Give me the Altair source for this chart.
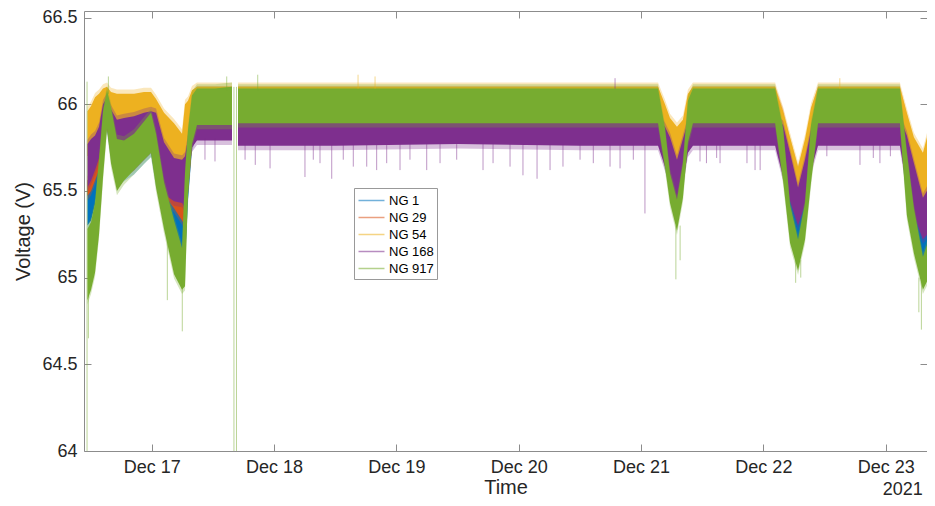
import altair as alt
import pandas as pd

FONT = "Liberation Sans"

SERIES = ["NG 1", "NG 29", "NG 54", "NG 168", "NG 917"]
COLORS = ["#0072BD", "#D95319", "#EDB120", "#7E2F8E", "#77AC30"]

TIMES = [
    "2021-12-16T11:24", "2021-12-16T12:06", "2021-12-16T12:53", "2021-12-16T13:40",
    "2021-12-16T14:27", "2021-12-16T15:14", "2021-12-16T16:01", "2021-12-16T17:11",
    "2021-12-16T18:34", "2021-12-16T20:32", "2021-12-16T22:29", "2021-12-16T23:52",
    "2021-12-17T00:51", "2021-12-17T02:25", "2021-12-17T04:23", "2021-12-17T05:57",
    "2021-12-17T06:32", "2021-12-17T07:07", "2021-12-17T07:54", "2021-12-17T08:53",
    "2021-12-17T12:25", "2021-12-17T15:45",
    "2021-12-17T16:56", "2021-12-18T12:00", "2021-12-19T12:00", "2021-12-20T12:00",
    "2021-12-21T03:20", "2021-12-21T04:42", "2021-12-21T05:41", "2021-12-21T07:03",
    "2021-12-21T08:13", "2021-12-21T09:12", "2021-12-21T10:11",
    "2021-12-22T02:18", "2021-12-22T03:52", "2021-12-22T05:14", "2021-12-22T06:48",
    "2021-12-22T08:10", "2021-12-22T09:21", "2021-12-22T10:43",
    "2021-12-23T02:47", "2021-12-23T04:09", "2021-12-23T05:32", "2021-12-23T07:18",
    "2021-12-23T08:28", "2021-12-23T09:30",
]
SEGMENT = [0] * 22 + [1] * 24

NG917_LO = [64.87, 64.93, 65.03, 65.25, 65.58, 65.86, 65.66, 65.50, 65.56, 65.62, 65.68, 65.72,
            65.52, 65.28, 65.02, 64.93, 64.95, 65.48, 65.77, 65.88, 65.88, 65.88,
            65.89, 65.89, 65.89, 65.89, 65.89, 65.64, 65.43, 65.27, 65.46, 65.78, 65.89,
            65.89, 65.56, 65.20, 65.04, 65.22, 65.55, 65.89,
            65.89, 65.36, 65.14, 64.93, 65.00, 65.15]
NG917_HI = [65.28, 65.32, 65.43, 65.68, 65.96, 66.08, 65.98, 65.80, 65.79, 65.83, 65.90, 65.95,
            65.83, 65.55, 65.33, 65.17, 65.60, 65.85, 66.05, 66.09, 66.09, 66.10,
            66.09, 66.09, 66.09, 66.09, 66.09, 65.86, 65.60, 65.45, 65.66, 66.02, 66.09,
            66.09, 65.86, 65.42, 65.22, 65.43, 65.88, 66.09,
            66.09, 65.72, 65.40, 65.12, 65.22, 65.45]

NG168_LO = [65.52, 65.56, 65.62, 65.69, 65.85, 65.88, 65.80, 65.77, 65.78, 65.80, 65.82, 65.84,
            65.72, 65.48, 65.44, 65.43, 65.40, 65.60, 65.75, 65.79, 65.79, 65.79,
            65.76, 65.76, 65.77, 65.76, 65.76, 65.64, 65.55, 65.43, 65.55, 65.72, 65.76,
            65.76, 65.58, 65.44, 65.30, 65.42, 65.62, 65.76,
            65.76, 65.52, 65.36, 65.22, 65.26, 65.43]
NG168_HI = [65.77, 65.80, 65.82, 65.87, 66.00, 66.04, 65.97, 65.91, 65.92, 65.93, 65.95, 65.96,
            65.95, 65.78, 65.69, 65.68, 65.70, 65.80, 65.90, 65.92, 65.92, 65.93,
            65.92, 65.92, 65.92, 65.92, 65.92, 65.87, 65.81, 65.68, 65.80, 65.90, 65.92,
            65.92, 65.88, 65.72, 65.52, 65.68, 65.85, 65.92,
            65.92, 65.82, 65.66, 65.46, 65.52, 65.81]

NG54_LO = [65.70, 65.72, 65.75, 65.80, 65.88, 65.90, 65.86, 65.85, 65.86, 65.87, 65.88, 65.88,
           65.84, 65.70, 65.62, 65.60, 65.65, 65.75, 65.85, 65.87, 65.87, 65.87,
           65.87, 65.87, 65.87, 65.87, 65.87, 65.80, 65.72, 65.60, 65.72, 65.85, 65.87,
           65.87, 65.78, 65.58, 65.45, 65.58, 65.75, 65.87,
           65.87, 65.72, 65.55, 65.40, 65.45, 65.70]
NG54_HI = [65.96, 65.99, 66.04, 66.06, 66.09, 66.10, 66.07, 66.06, 66.06, 66.06, 66.07, 66.07,
           66.03, 65.95, 65.89, 65.83, 66.00, 66.02, 66.08, 66.10, 66.10, 66.10,
           66.10, 66.10, 66.10, 66.10, 66.10, 66.00, 65.92, 65.87, 65.91, 66.06, 66.10,
           66.10, 65.96, 65.81, 65.64, 65.80, 65.98, 66.10,
           66.10, 65.95, 65.81, 65.72, 65.85, 66.00]

NG29_LO = [65.47, 65.50, 65.56, 65.62, 65.82, 65.87, 65.72, 65.57, 65.60, 65.64, 65.70, 65.74,
           65.58, 65.48, 65.40, 65.33, 65.30, 65.50, 65.76, 65.86, 65.86, 65.86,
           65.86, 65.86, 65.86, 65.86, 65.86, 65.72, 65.62, 65.50, 65.62, 65.80, 65.86,
           65.86, 65.70, 65.50, 65.38, 65.50, 65.70, 65.86,
           65.86, 65.62, 65.45, 65.30, 65.35, 65.55]
NG29_HI = [65.56, 65.60, 65.66, 65.78, 65.98, 66.06, 65.96, 65.84, 65.84, 65.87, 65.91, 65.95,
           65.88, 65.60, 65.50, 65.45, 65.50, 65.82, 66.02, 66.08, 66.08, 66.08,
           66.08, 66.08, 66.08, 66.08, 66.08, 65.95, 65.87, 65.80, 65.87, 66.03, 66.08,
           66.08, 65.95, 65.78, 65.62, 65.75, 65.95, 66.08,
           66.08, 65.92, 65.76, 65.68, 65.75, 65.90]

NG1_LO = [65.30, 65.33, 65.42, 65.58, 65.80, 65.86, 65.70, 65.55, 65.58, 65.62, 65.68, 65.72,
          65.55, 65.35, 65.25, 65.14, 65.10, 65.45, 65.75, 65.85, 65.85, 65.85,
          65.85, 65.85, 65.85, 65.85, 65.85, 65.65, 65.52, 65.40, 65.52, 65.78, 65.85,
          65.85, 65.62, 65.35, 65.15, 65.32, 65.62, 65.85,
          65.85, 65.45, 65.25, 65.10, 65.15, 65.30]
NG1_HI = [65.52, 65.56, 65.64, 65.76, 65.96, 66.05, 65.95, 65.82, 65.82, 65.85, 65.90, 65.94,
          65.86, 65.56, 65.47, 65.43, 65.45, 65.80, 66.00, 66.07, 66.07, 66.07,
          66.07, 66.07, 66.07, 66.07, 66.07, 65.92, 65.82, 65.72, 65.82, 66.00, 66.07,
          66.07, 65.90, 65.60, 65.32, 65.55, 65.90, 66.07,
          66.07, 65.80, 65.50, 65.24, 65.35, 65.55]

# isolated spikes / glitches: series, time, low end, high end
SPIKE_SERIES = (["NG 917"] * 15
                + ["NG 168"] * 45
                + ["NG 54"] * 3)
SPIKE_TIMES = [
    # NG 917
    "2021-12-16T11:19", "2021-12-17T16:08", "2021-12-17T16:38", "2021-12-16T11:35",
    "2021-12-17T06:00", "2021-12-21T06:50", "2021-12-21T07:40", "2021-12-22T06:20",
    "2021-12-22T07:20", "2021-12-23T07:00", "2021-12-23T06:30", "2021-12-16T15:30",
    "2021-12-17T14:43", "2021-12-17T20:48", "2021-12-17T03:04",
    # NG 168
    "2021-12-18T06:04", "2021-12-18T11:19", "2021-12-18T18:11", "2021-12-19T00:43",
    "2021-12-19T05:57", "2021-12-19T17:00", "2021-12-19T18:58", "2021-12-20T00:50",
    "2021-12-20T03:36", "2021-12-20T06:09", "2021-12-20T08:41", "2021-12-20T17:55",
    "2021-12-20T19:53", "2021-12-21T00:46", "2021-12-17T18:19", "2021-12-17T20:19",
    "2021-12-17T23:13", "2021-12-17T10:27", "2021-12-17T12:25", "2021-12-21T15:30",
    "2021-12-21T11:34", "2021-12-21T22:22", "2021-12-21T20:47", "2021-12-22T22:52",
    "2021-12-22T18:57", "2021-12-20T18:54",
    "2021-12-18T07:42", "2021-12-18T09:01", "2021-12-18T13:35", "2021-12-18T15:33",
    "2021-12-18T20:08", "2021-12-18T22:06", "2021-12-19T02:40", "2021-12-19T08:34",
    "2021-12-19T11:50", "2021-12-19T22:18", "2021-12-20T12:02", "2021-12-20T14:38",
    "2021-12-20T22:29", "2021-12-21T12:50", "2021-12-21T14:50", "2021-12-21T23:22",
    "2021-12-22T12:27", "2021-12-22T21:34", "2021-12-23T00:55",
    # NG 54
    "2021-12-18T16:29", "2021-12-18T19:49", "2021-12-22T15:00",
]
SPIKE_LO = [
    64.00, 64.00, 64.00, 64.65, 64.69, 64.99, 65.10, 64.97, 65.00, 64.70, 64.80, 66.06,
    66.08, 66.08, 64.87,
    65.58, 65.57, 65.64, 65.62, 65.62, 65.62, 65.66, 65.59, 65.57, 65.62, 65.64, 65.64,
    65.63, 65.37, 65.68, 65.65, 65.63, 65.68, 65.67, 65.66, 65.67, 65.62, 65.66, 65.66,
    65.65, 66.09,
    65.68, 65.66, 65.68, 65.64, 65.62, 65.66, 65.68, 65.66, 65.68, 65.64, 65.68, 65.66,
    65.68, 65.66, 65.69, 65.62, 65.70, 65.69, 65.70,
    66.09, 66.09, 66.09,
]
SPIKE_HI = [
    66.13, 66.10, 66.10, 64.90, 65.00, 65.30, 65.30, 65.10, 65.10, 65.00, 65.00, 66.16,
    66.16, 66.17, 65.30,
    65.77, 65.77, 65.77, 65.77, 65.77, 65.77, 65.77, 65.77, 65.77, 65.77, 65.77, 65.77,
    65.77, 65.77, 65.77, 65.77, 65.77, 65.80, 65.80, 65.77, 65.77, 65.77, 65.77, 65.77,
    65.77, 66.15,
    65.77, 65.77, 65.77, 65.77, 65.77, 65.77, 65.77, 65.77, 65.77, 65.77, 65.77, 65.77,
    65.77, 65.77, 65.77, 65.77, 65.77, 65.77, 65.77,
    66.17, 66.16, 66.15,
]

TICK_DAYS = [17, 18, 19, 20, 21, 22, 23]
Y_TICKS = [64, 64.5, 65, 65.5, 66, 66.5]
YEAR_AT = ["2021-12-23T00:00"]
YEAR_LABEL = ["2021"]

BANDS = {
    "NG 1": (NG1_LO, NG1_HI),
    "NG 29": (NG29_LO, NG29_HI),
    "NG 54": (NG54_LO, NG54_HI),
    "NG 168": (NG168_LO, NG168_HI),
    "NG 917": (NG917_LO, NG917_HI),
}

rows = []
for s in SERIES:
    lo, hi = BANDS[s]
    for i, t in enumerate(TIMES):
        rows.append({"time": t, "seg": SEGMENT[i], "series": s, "lo": lo[i], "hi": hi[i]})
bands = pd.DataFrame(rows)
spikes = pd.DataFrame({"series": SPIKE_SERIES, "time": SPIKE_TIMES, "lo": SPIKE_LO, "hi": SPIKE_HI})
year = pd.DataFrame({"time": YEAR_AT, "label": YEAR_LABEL})

W, H = 843, 440
AXC = "#8c8c8c"
TXT = "#262626"

xscale = alt.Scale(domain=[alt.DateTime(year=2021, month=12, date=16, hours=10, minutes=43),
                           alt.DateTime(year=2021, month=12, date=23, hours=8, minutes=6)])
yscale = alt.Scale(domain=[64, 66.5375], nice=False, zero=False)
cscale = alt.Scale(domain=SERIES, range=COLORS)
tick_vals = [alt.DateTime(year=2021, month=12, date=d) for d in TICK_DAYS]
legend = alt.Legend(orient="none", legendX=270, legendY=177, title=None)

x_bottom = alt.Axis(orient="bottom", values=tick_vals, format="%b %d", title="Time",
                    labelFontSize=18, titleFontSize=20, tickSize=7, offset=-7, domain=False,
                    tickColor=AXC, labelColor=TXT, titleColor=TXT, labelPadding=7,
                    titlePadding=1, titleFontWeight="normal", grid=False, labelFlush=False)
y_left = alt.Axis(orient="left", values=Y_TICKS, format="~g", title="Voltage (V)",
                  labelFontSize=18, titleFontSize=20, tickSize=7, offset=-7, domain=False,
                  tickColor=AXC, labelColor=TXT, titleColor=TXT, labelPadding=7,
                  titlePadding=8, titleFontWeight="normal", grid=False)
x_top = alt.Axis(orient="top", values=tick_vals, labels=False, title=None, tickSize=7,
                 offset=-7, domain=False, tickColor=AXC, grid=False)
y_right = alt.Axis(orient="right", values=Y_TICKS, labels=False, title=None, tickSize=7,
                   offset=-7, domain=False, tickColor=AXC, grid=False)

layers = []
first = True
for s in SERIES:
    sub = alt.Chart(bands).transform_filter(alt.datum.series == s)
    halo = sub.transform_calculate(lo2="datum.lo - 0.025", hi2="datum.hi + 0.025").mark_area(
        opacity=0.3, interpolate="linear", clip=True).encode(
        x=alt.X("time:T", scale=xscale, axis=None),
        y=alt.Y("lo2:Q", scale=yscale, axis=None),
        y2="hi2:Q",
        color=alt.Color("series:N", scale=cscale, legend=legend),
        detail="seg:N",
    )
    solid = sub.mark_area(opacity=1, interpolate="linear", clip=True).encode(
        x=alt.X("time:T", scale=xscale, axis=x_bottom if first else None),
        y=alt.Y("lo:Q", scale=yscale, axis=y_left if first else None),
        y2="hi:Q",
        color=alt.Color("series:N", scale=cscale, legend=legend),
        detail="seg:N",
    )
    first = False
    layers += [halo, solid]

spike_layer = alt.Chart(spikes).mark_rule(strokeWidth=1, opacity=0.5, clip=True).encode(
    x=alt.X("time:T", scale=xscale, axis=x_top),
    y=alt.Y("lo:Q", scale=yscale, axis=y_right),
    y2="hi:Q",
    color=alt.Color("series:N", scale=cscale, legend=legend),
)
layers.append(spike_layer)

year_layer = alt.Chart(year).mark_text(align="left", baseline="alphabetic", dx=-3,
                                       fontSize=18, font=FONT, color=TXT).encode(
    x=alt.X("time:T", scale=xscale, axis=None),
    y=alt.value(H + 44),
    text="label:N",
)
layers.append(year_layer)

chart = alt.layer(*layers).resolve_axis(x="independent", y="independent").properties(
    width=W, height=H,
    autosize=alt.AutoSizeParams(type="none"),
    padding={"left": 76, "top": 3, "right": 0, "bottom": 47},
    background="white",
).configure_view(stroke=AXC, strokeWidth=1).configure_axis(
    labelFont=FONT, titleFont=FONT
).configure_legend(
    labelFont=FONT, labelFontSize=13, labelColor="#000000",
    symbolType="M-1.5,0H1.5", symbolSize=300, symbolStrokeWidth=1.5, symbolOpacity=0.55,
    symbolOffset=5, rowPadding=0, padding=3, strokeColor="#999999", fillColor="white",
    labelOffset=8, cornerRadius=0,
)

chart.save("out.html", embed_options={"renderer": "svg", "actions": False})
